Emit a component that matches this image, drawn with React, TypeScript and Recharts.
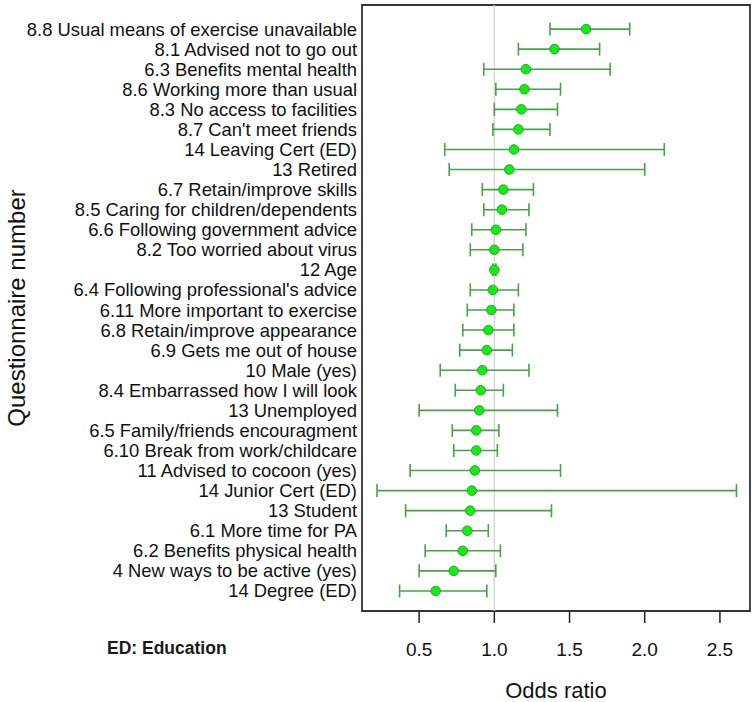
import React from "react"
import {
  ScatterChart,
  Scatter,
  XAxis,
  YAxis,
  ErrorBar,
  ReferenceLine,
  ReferenceArea,
  Label,
} from "recharts"

// questionnaire items, top to bottom
const labels = [
  "8.8 Usual means of exercise unavailable",
  "8.1 Advised not to go out",
  "6.3 Benefits mental health",
  "8.6 Working more than usual",
  "8.3 No access to facilities",
  "8.7 Can't meet friends",
  "14 Leaving Cert (ED)",
  "13 Retired",
  "6.7 Retain/improve skills",
  "8.5 Caring for children/dependents",
  "6.6 Following government advice",
  "8.2 Too worried about virus",
  "12 Age",
  "6.4 Following professional's advice",
  "6.11 More important to exercise",
  "6.8 Retain/improve appearance",
  "6.9 Gets me out of house",
  "10 Male (yes)",
  "8.4 Embarrassed how I will look",
  "13 Unemployed",
  "6.5 Family/friends encouragment",
  "6.10 Break from work/childcare",
  "11 Advised to cocoon (yes)",
  "14 Junior Cert (ED)",
  "13 Student",
  "6.1 More time for PA",
  "6.2 Benefits physical health",
  "4 New ways to be active (yes)",
  "14 Degree (ED)",
]

const oddsRatio = [
  1.61, 1.4, 1.21, 1.2, 1.18, 1.16, 1.13, 1.1, 1.06, 1.05, 1.01, 1.0, 1.0,
  0.99, 0.98, 0.96, 0.95, 0.92, 0.91, 0.9, 0.88, 0.88, 0.87, 0.85, 0.84,
  0.82, 0.79, 0.73, 0.61,
]

const lowerCI = [
  1.37, 1.16, 0.93, 1.01, 1.0, 0.99, 0.67, 0.7, 0.92, 0.93, 0.85, 0.84, 0.99,
  0.84, 0.82, 0.79, 0.77, 0.64, 0.74, 0.5, 0.72, 0.73, 0.44, 0.22, 0.41,
  0.68, 0.54, 0.5, 0.37,
]

const upperCI = [
  1.9, 1.7, 1.77, 1.44, 1.42, 1.37, 2.13, 2.0, 1.26, 1.23, 1.21, 1.19, 1.01,
  1.16, 1.13, 1.13, 1.12, 1.23, 1.06, 1.42, 1.03, 1.02, 1.44, 2.61, 1.38,
  0.96, 1.04, 1.01, 0.95,
]

const xTicks = [0.5, 1.0, 1.5, 2.0, 2.5]
const X_DOMAIN = [0.12, 2.7]
const Y_DOMAIN = [-1.2, 29]

const rows = labels.map((name, i) => ({
  row: i,
  name,
  or: oddsRatio[i],
  err: [oddsRatio[i] - lowerCI[i], upperCI[i] - oddsRatio[i]],
}))

const FONT = "'Liberation Sans', Arial, sans-serif"

const Dot = (props: any) => (
  <circle
    cx={props.cx}
    cy={props.cy}
    r={4.8}
    fill="#10f010"
    stroke="#3a9a3a"
    strokeWidth={1}
  />
)

export default function App() {
  return (
    <div style={{ position: "absolute", left: 0, top: 0, width: 755, height: 702, background: "#fff", fontFamily: FONT }}>
      <ScatterChart
        width={755}
        height={702}
        margin={{ top: 5, right: 5, bottom: 0, left: 0 }}
      >
        <XAxis
          type="number"
          dataKey="or"
          domain={X_DOMAIN}
          ticks={xTicks}
          allowDataOverflow
          tickFormatter={(v: number) => v.toFixed(1)}
          axisLine={false}
          tickSize={12}
          tickMargin={20}
          tickLine={{ stroke: "#222", strokeWidth: 1.5 }}
          tick={{ fill: "#111", fontSize: 19, fontFamily: FONT }}
          height={91}
        >
          <Label
            value="Odds ratio"
            position="insideBottom"
            offset={4}
            style={{ fill: "#111", fontSize: 22, fontFamily: FONT }}
          />
        </XAxis>
        <YAxis
          type="number"
          dataKey="row"
          domain={Y_DOMAIN}
          reversed
          ticks={rows.map((r) => r.row)}
          interval={0}
          tickFormatter={(v: number) => labels[v] ?? ""}
          axisLine={false}
          tickLine={false}
          tickSize={3}
          tickMargin={2}
          tick={{ fill: "#111", fontSize: 18.4, fontFamily: FONT }}
          width={362}
        >
          <Label
            content={({ viewBox }: any) => {
              const cx = viewBox.x + 16
              const cy = viewBox.y + viewBox.height / 2
              return (
                <text
                  x={cx}
                  y={cy}
                  transform={`rotate(-90 ${cx} ${cy})`}
                  textAnchor="middle"
                  dominantBaseline="central"
                  fill="#111"
                  fontSize={24}
                  fontFamily={FONT}
                >
                  Questionnaire number
                </text>
              )
            }}
          />
        </YAxis>
        <ReferenceLine x={1} stroke="#d6d6d6" strokeWidth={1.5} />
        <ReferenceArea
          x1={X_DOMAIN[0]}
          x2={X_DOMAIN[1]}
          y1={Y_DOMAIN[0]}
          y2={Y_DOMAIN[1]}
          fill="none"
          fillOpacity={0}
          stroke="#333"
          strokeWidth={1.8}
          ifOverflow="visible"
        />
        <Scatter data={rows} shape={<Dot />} isAnimationActive={false}>
          <ErrorBar
            dataKey="err"
            direction="x"
            width={6.5}
            stroke="#45a345"
            strokeWidth={1.6}
            isAnimationActive={false}
          />
        </Scatter>
      </ScatterChart>
      <div
        style={{
          position: "absolute",
          left: 107,
          top: 638,
          fontSize: 17.5,
          fontWeight: "bold",
          color: "#1a1a1a",
          fontFamily: FONT,
          whiteSpace: "nowrap",
        }}
      >
        ED: Education
      </div>
    </div>
  )
}
